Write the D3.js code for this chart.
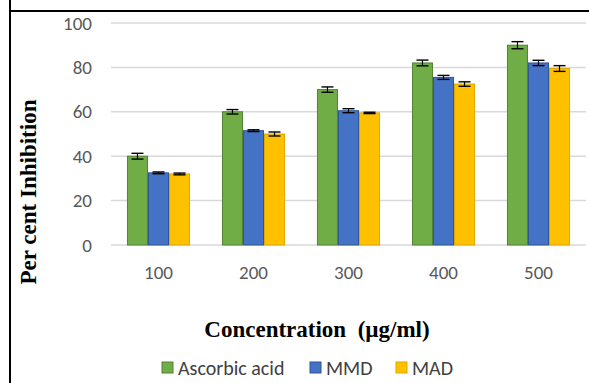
<!DOCTYPE html>
<html>
<head>
<meta charset="utf-8">
<script src="https://cdn.jsdelivr.net/npm/d3@7"></script>
<style>
  body { margin: 0; background: #fff; }
  svg { display: block; }
</style>
</head>
<body>
<div id="chart"></div>
<script>
// 数据
const categories = ['100', '200', '300', '400', '500'];
const seriesNames = ['Ascorbic acid', 'MMD', 'MAD'];
const ascorbic = [40, 60, 70, 82, 90];
const mmd = [32.5, 51.5, 60.5, 75.5, 82];
const mad = [32, 50, 59.5, 72.5, 79.5];
const ascorbicErr = [1.3, 1.0, 1.2, 1.3, 1.6];
const mmdErr = [0.4, 0.4, 0.9, 0.9, 1.2];
const madErr = [0.4, 0.9, 0.3, 1.0, 1.3];
const yTicks = [0, 20, 40, 60, 80, 100];

const fills = ['#70ad47', '#4472c4', '#ffc000'];
const strokes = ['#548235', '#2f5597', '#e0a800'];
const tickFont = 'Carlito, "Liberation Sans", sans-serif';

const width = 589, height = 383;
const svg = d3.select('#chart').append('svg').attr('width', width).attr('height', height);

// 外框
svg.append('line').attr('x1', 10).attr('y1', 0).attr('x2', 10).attr('y2', height)
  .attr('stroke', '#000').attr('stroke-width', 2);
svg.append('line').attr('x1', 9).attr('y1', 11).attr('x2', width).attr('y2', 11)
  .attr('stroke', '#000').attr('stroke-width', 2);

const series = [ascorbic, mmd, mad];
const errs = [ascorbicErr, mmdErr, madErr];
const table = categories.map((c, i) => ({
  cat: c,
  vals: seriesNames.map((s, j) => ({ key: s, idx: j, value: series[j][i], err: errs[j][i] }))
}));

const x0 = d3.scaleBand().domain(categories).range([111, 586]).padding(0);
const gap = x0.bandwidth() * 0.168;
const x1 = d3.scaleBand().domain(seriesNames).range([gap, x0.bandwidth() - gap]).padding(0);
const y = d3.scaleLinear().domain([0, 100]).range([245, 23]);

// 网格线
svg.append('g').selectAll('line').data(yTicks).enter().append('line')
  .attr('x1', 111).attr('x2', 586)
  .attr('y1', d => y(d)).attr('y2', d => y(d))
  .attr('stroke', '#d9d9d9').attr('stroke-width', 1.5);

// y轴刻度
const yAxis = svg.append('g').attr('transform', 'translate(98,0)')
  .call(d3.axisLeft(y).tickValues(yTicks).tickSize(0).tickPadding(6));
yAxis.select('.domain').remove();
yAxis.selectAll('text').attr('fill', '#595959')
  .style('font-family', tickFont).style('font-size', '19px');

// x轴刻度
const xAxis = svg.append('g').attr('transform', 'translate(0,261)')
  .call(d3.axisBottom(x0).tickSize(0).tickPadding(4));
xAxis.select('.domain').remove();
xAxis.selectAll('text').attr('fill', '#595959')
  .style('font-family', tickFont).style('font-size', '19px');

// 柱子
const groups = svg.append('g').selectAll('g.grp').data(table).enter()
  .append('g').attr('class', 'grp')
  .attr('transform', d => 'translate(' + x0(d.cat) + ',0)');

groups.selectAll('rect').data(d => d.vals).enter().append('rect')
  .attr('x', d => x1(d.key) + 0.5)
  .attr('y', d => y(d.value))
  .attr('width', x1.bandwidth() - 1)
  .attr('height', d => y(0) - y(d.value))
  .attr('fill', d => fills[d.idx])
  .attr('stroke', d => strokes[d.idx])
  .attr('stroke-width', 1);

// 误差线
const eb = groups.selectAll('g.err').data(d => d.vals).enter().append('g').attr('class', 'err');
eb.append('line')
  .attr('x1', d => x1(d.key) + x1.bandwidth() / 2)
  .attr('x2', d => x1(d.key) + x1.bandwidth() / 2)
  .attr('y1', d => y(d.value + d.err)).attr('y2', d => y(d.value - d.err))
  .attr('stroke', '#000').attr('stroke-width', 1.2);
[1, -1].forEach(s => {
  eb.append('line')
    .attr('x1', d => x1(d.key) + x1.bandwidth() / 2 - 6)
    .attr('x2', d => x1(d.key) + x1.bandwidth() / 2 + 6)
    .attr('y1', d => y(d.value + s * d.err)).attr('y2', d => y(d.value + s * d.err))
    .attr('stroke', '#000').attr('stroke-width', 1.4);
});

// 轴标题
svg.append('text').text('Per cent Inhibition')
  .attr('transform', 'translate(36,192) rotate(-90)')
  .attr('text-anchor', 'middle')
  .style('font-family', '"Liberation Serif", serif')
  .style('font-weight', 'bold').style('font-size', '23px').attr('fill', '#000');

svg.append('text').text('Concentration  (µg/ml)')
  .attr('x', 317).attr('y', 337)
  .attr('text-anchor', 'middle')
  .attr('xml:space', 'preserve').style('white-space', 'pre')
  .style('font-family', '"Liberation Serif", serif')
  .style('font-weight', 'bold').style('font-size', '23px').attr('fill', '#000');

// 图例
const legendX = [162, 310, 396];
const legend = svg.append('g').selectAll('g').data(seriesNames).enter().append('g')
  .attr('transform', (d, i) => 'translate(' + legendX[i] + ',362)');
legend.append('rect').attr('width', 11).attr('height', 11)
  .attr('fill', (d, i) => fills[i]).attr('stroke', (d, i) => strokes[i]).attr('stroke-width', 1);
legend.append('text').text(d => d)
  .attr('x', 16).attr('y', 6).attr('dy', '0.35em')
  .attr('fill', '#404040')
  .style('font-family', tickFont).style('font-size', '20px');
</script>
</body>
</html>
